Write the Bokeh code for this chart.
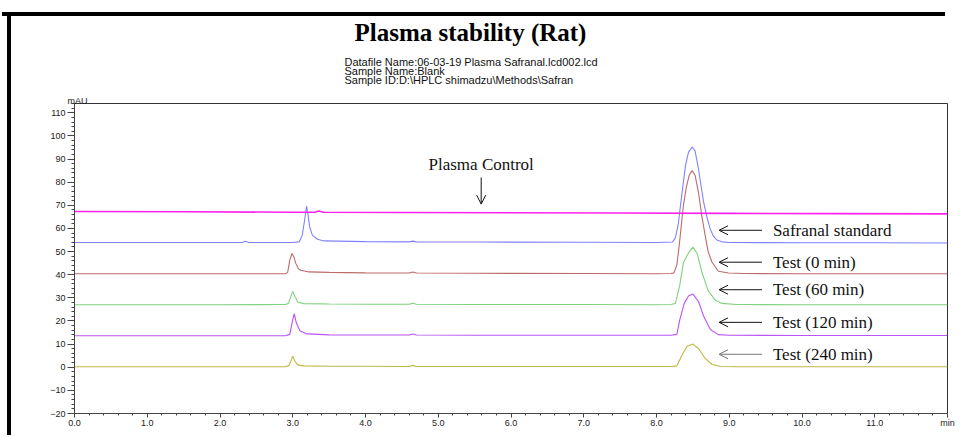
from bokeh.plotting import figure
from bokeh.models import Label, Arrow, OpenHead, FixedTicker, Range1d, Title, Div, Spacer
from bokeh.layouts import row, column
from bokeh.embed import file_html
from bokeh.resources import INLINE

# ---------------- data ----------------
control_x = [0.0, 1.5, 3.0, 3.30, 3.36, 3.42, 4.5, 6.0, 7.5, 9.0, 10.5, 12.0]
control_y = [67.3, 67.2, 67.0, 67.0, 67.5, 67.0, 66.9, 66.8, 66.7, 66.5, 66.4, 66.3]

std_x = [0.0, 1.0, 2.0, 2.30, 2.35, 2.40, 3.00, 3.09, 3.13, 3.16, 3.19, 3.21, 3.23, 3.27, 3.34, 3.43,
         4.00, 4.60, 4.65, 4.70, 5.50, 7.00, 8.00, 8.22, 8.26, 8.30, 8.33, 8.37, 8.40, 8.44, 8.49,
         8.53, 8.57, 8.61, 8.65, 8.70, 8.74, 8.78, 8.83, 8.90, 9.00, 10.0, 11.0, 12.0]
std_y = [53.9, 53.9, 53.9, 53.9, 54.5, 53.9, 53.9, 54.2, 57.0, 63.0, 69.7, 66.0, 61.0, 57.0, 55.3, 54.6,
         54.3, 54.2, 54.5, 54.2, 54.1, 54.0, 53.9, 54.1, 56.0, 62.0, 70.0, 80.0, 87.5, 93.0, 95.2,
         93.5, 87.0, 79.0, 71.0, 64.0, 59.6, 56.8, 55.0, 54.2, 53.9, 53.8, 53.8, 53.7]

t0_x = [0.0, 1.0, 2.0, 2.90, 2.93, 2.96, 2.99, 3.02, 3.04, 3.08, 3.11, 3.22, 3.50, 4.00, 4.60, 4.65,
        4.70, 5.50, 7.00, 8.00, 8.20, 8.24, 8.28, 8.31, 8.34, 8.37, 8.41, 8.45, 8.49, 8.53, 8.58,
        8.62, 8.67, 8.71, 8.76, 8.85, 8.99, 9.20, 10.0, 11.0, 12.0]
t0_y = [40.4, 40.4, 40.4, 40.4, 41.0, 46.4, 49.2, 47.3, 45.0, 42.5, 41.9, 41.2, 41.0, 40.8, 40.7, 41.2,
        40.7, 40.6, 40.5, 40.4, 40.5, 40.8, 44.3, 52.0, 61.0, 70.0, 77.8, 83.0, 85.0, 83.0, 75.0,
        66.0, 56.8, 50.0, 45.6, 41.5, 40.7, 40.5, 40.4, 40.4, 40.4]

t60_x = [0.0, 1.0, 2.0, 2.90, 2.94, 2.97, 3.00, 3.03, 3.07, 3.15, 3.50, 4.00, 4.60, 4.65, 4.70, 5.50,
         7.00, 8.00, 8.20, 8.26, 8.32, 8.37, 8.44, 8.50, 8.56, 8.62, 8.71, 8.81, 8.90, 9.10, 10.0,
         11.0, 12.0]
t60_y = [27.0, 27.0, 27.0, 27.1, 27.6, 30.3, 32.8, 30.6, 28.2, 27.5, 27.3, 27.2, 27.2, 27.7, 27.2, 27.1,
         27.1, 27.0, 27.1, 27.6, 35.5, 45.2, 49.4, 51.9, 49.1, 41.5, 33.1, 28.9, 27.6, 27.1, 27.0,
         27.0, 27.0]

t120_x = [0.0, 1.0, 2.0, 2.90, 2.96, 2.99, 3.02, 3.05, 3.10, 3.20, 3.50, 4.00, 4.60, 4.65, 4.70, 5.50,
          7.00, 8.00, 8.20, 8.28, 8.32, 8.38, 8.44, 8.50, 8.58, 8.65, 8.74, 8.85, 9.00, 10.0, 11.0, 12.0]
t120_y = [13.6, 13.6, 13.6, 13.6, 14.2, 19.1, 23.2, 19.1, 15.7, 14.4, 14.0, 13.9, 13.9, 14.4, 13.9, 13.8,
          13.8, 13.8, 13.8, 14.2, 20.5, 27.5, 30.8, 31.7, 28.2, 21.9, 16.3, 14.1, 13.8, 13.7, 13.7, 13.7]

t240_x = [0.0, 1.0, 2.0, 2.90, 2.95, 2.98, 3.00, 3.03, 3.07, 3.15, 3.50, 4.00, 4.60, 4.65, 4.70, 5.50,
          7.00, 8.00, 8.20, 8.28, 8.35, 8.42, 8.50, 8.58, 8.67, 8.76, 8.88, 9.10, 10.0, 11.0, 12.0]
t240_y = [0.2, 0.2, 0.2, 0.2, 0.8, 3.1, 4.8, 2.6, 1.0, 0.6, 0.4, 0.4, 0.3, 0.8, 0.3, 0.3,
          0.3, 0.3, 0.3, 0.6, 5.2, 9.1, 10.0, 8.0, 3.8, 1.3, 0.3, 0.2, 0.2, 0.2, 0.2]

x_major = list(range(0, 13))
x_labels = ["0.0", "1.0", "2.0", "3.0", "4.0", "5.0", "6.0", "7.0", "8.0", "9.0", "10.0", "11.0", "min"]
y_major = list(range(-20, 111, 10))

series_names = ["Safranal standard", "Test (0 min)", "Test (60 min)", "Test (120 min)", "Test (240 min)"]
series_label_y = [59.2, 45.4, 33.5, 19.4, 5.6]

title_text = "Plasma stability (Rat)"
info_lines = ["Datafile Name:06-03-19 Plasma Safranal.lcd002.lcd",
              "Sample Name:Blank",
              "Sample ID:D:\\HPLC shimadzu\\Methods\\Safran"]

# ---------------- figure ----------------
W, H = 939, 422
ML, MR, MT, MB = 58, 8, 95, 16

p = figure(width=W, height=H, output_backend="svg", toolbar_location=None,
           x_range=Range1d(0.0, 12.0), y_range=Range1d(-20.0, 114.0),
           min_border_left=ML, min_border_right=MR, min_border_top=MT, min_border_bottom=MB)
p.title.visible = False
p.title.standoff = 0
p.title.text_font_size = "1px"
p.grid.visible = False
p.outline_line_color = "#333333"
p.background_fill_color = "white"
p.border_fill_color = None

p.xaxis.ticker = FixedTicker(ticks=x_major, minor_ticks=[i * 0.2 for i in range(61)])
p.xaxis.major_label_overrides = {t: s for t, s in zip(x_major, x_labels)}
p.yaxis.ticker = FixedTicker(ticks=y_major, minor_ticks=list(range(-20, 115, 2)))
for ax in (p.xaxis, p.yaxis):
    ax.axis_line_color = "#444444"
    ax.major_tick_line_color = "#444444"
    ax.minor_tick_line_color = "#444444"
    ax.major_tick_in = 0
    ax.minor_tick_in = 0
    ax.major_label_text_font = "Liberation Sans"
    ax.major_label_text_font_size = "9px"
    ax.major_label_text_color = "#222222"
p.xaxis.major_tick_out = 4
p.xaxis.minor_tick_out = 2
p.xaxis.major_label_standoff = 0
p.yaxis.major_tick_out = 7
p.yaxis.minor_tick_out = 3
p.yaxis.major_label_standoff = 2

# traces
p.line(t240_x, t240_y, line_color="#bdb843", line_width=1.1)
p.line(t120_x, t120_y, line_color="#b955f5", line_width=1.1)
p.line(t60_x, t60_y, line_color="#7fd27f", line_width=1.1)
p.line(t0_x, t0_y, line_color="#bf6a6a", line_width=1.1)
p.line(std_x, std_y, line_color="#8080ff", line_width=1.1)
p.line(control_x, control_y, line_color="#ff22ee", line_width=1.6)

# titles (stacked from the frame outwards)
p.add_layout(Title(text="mAU", align="left", offset=-7, standoff=-4,
                   text_font="Liberation Sans", text_font_size="9px", text_line_height=1.0,
                   text_font_style="normal", text_color="#222222"), "above")
p.add_layout(Title(text="\n".join(info_lines), align="left", offset=270, standoff=19,
                   text_font="Liberation Sans", text_font_size="11px", text_line_height=0.73,
                   text_font_style="normal", text_color="#111111"), "above")
p.add_layout(Title(text=title_text, align="left", offset=280, standoff=-2,
                   text_font="Liberation Serif", text_font_size="25px",
                   text_font_style="bold", text_color="black"), "above")

# annotations
serif = "Liberation Serif"
p.add_layout(Label(x=5.59, y=87.5, text="Plasma Control", text_font=serif, text_font_size="17px",
                   text_align="center", text_baseline="middle", text_color="#111111"))
p.add_layout(Arrow(end=OpenHead(size=9, line_width=1, line_color="#111111"),
                   x_start=5.59, y_start=82.0, x_end=5.59, y_end=70.5,
                   line_width=1, line_color="#111111"))
for i, (name, yv) in enumerate(zip(series_names, series_label_y)):
    col = "#777777" if i == 4 else "#111111"
    p.add_layout(Arrow(end=OpenHead(size=9, line_width=1, line_color=col),
                       x_start=9.45, y_start=yv, x_end=8.86, y_end=yv,
                       line_width=1, line_color=col))
    p.add_layout(Label(x=9.60, y=yv, text=name, text_font=serif, text_font_size="17px",
                       text_align="left", text_baseline="middle", text_color="#111111"))

# black page frame (top rule and left bar); the rule sits behind the figure's transparent border
top_rule = Div(width=943, height=4, margin=(4, 0, -8, 0), styles={"background-color": "#000000"})
left_bar = Div(width=4, height=H, styles={"background-color": "#000000"})
page = row(Spacer(width=2, height=2),
           column(Spacer(width=2, height=8), top_rule, row(left_bar, p)))

open("out.html", "w").write(file_html(page, INLINE))
